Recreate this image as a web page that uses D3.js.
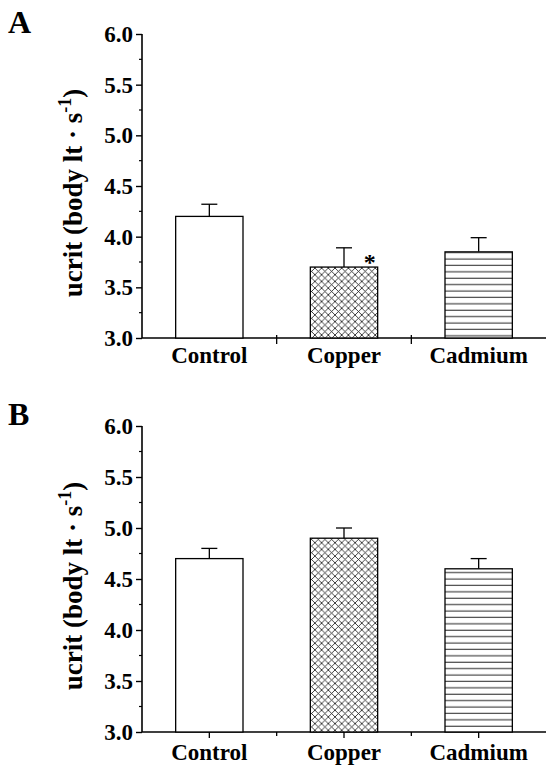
<!DOCTYPE html>
<html>
<head>
<meta charset="utf-8">
<script src="https://cdn.jsdelivr.net/npm/d3@7"></script>
<style>
  body { margin: 0; background: #fff; }
  svg { display: block; font-family: "Liberation Serif", "Times New Roman", serif; font-weight: bold; }
</style>
</head>
<body>
<svg id="chart" width="550" height="769"></svg>
<script>
// values
const categories = ['Control', 'Copper', 'Cadmium'];
const fills = ['#fff', 'url(#cross)', 'url(#hlines)'];
const meansA = [4.2, 3.7, 3.85];
const errA = [0.12, 0.19, 0.14];
const meansB = [4.7, 4.9, 4.6];
const errB = [0.1, 0.1, 0.1];
const yTicks = [3.0, 3.5, 4.0, 4.5, 5.0, 5.5, 6.0];
const yMinor = [3.25, 3.75, 4.25, 4.75, 5.25, 5.75];
const signifA = ['', '*', ''];
const signifB = ['', '', ''];

const svg = d3.select('#chart');
const defs = svg.append('defs');

// crosshatch for copper
const cross = defs.append('pattern')
  .attr('id', 'cross')
  .attr('patternUnits', 'userSpaceOnUse')
  .attr('width', 6.7).attr('height', 6.7);
cross.append('rect').attr('width', 6.7).attr('height', 6.7).attr('fill', '#fff');
cross.append('path')
  .attr('d', 'M0,0L6.7,6.7M6.7,0L0,6.7')
  .attr('stroke', '#111').attr('stroke-width', 0.8);

// horizontal lines for cadmium
const hl = defs.append('pattern')
  .attr('id', 'hlines')
  .attr('patternUnits', 'userSpaceOnUse')
  .attr('width', 10).attr('height', 6.4);
hl.append('rect').attr('width', 10).attr('height', 6.4).attr('fill', '#fff');
hl.append('line')
  .attr('x1', 0).attr('x2', 10).attr('y1', 3).attr('y2', 3)
  .attr('stroke', '#222').attr('stroke-width', 1);

const left = 142, right = 546;

function panel(letter, top, bottom, means, errs, marks, centerTicks, labelGap) {
  const g = svg.append('g');
  const x = d3.scaleBand().domain(categories).range([left, right]).paddingInner(0.5).paddingOuter(0.25);
  const y = d3.scaleLinear().domain([3, 6]).range([bottom, top]);

  // panel letter
  g.append('text')
    .attr('x', 8).attr('y', top - 1)
    .attr('font-size', 32)
    .text(letter);

  // y axis
  const yAxis = g.append('g')
    .attr('transform', `translate(${left},0)`)
    .call(d3.axisLeft(y).tickValues(yTicks).tickFormat(d3.format('.1f')).tickSize(6).tickPadding(3));
  yAxis.select('.domain').attr('stroke', '#000').attr('stroke-width', 1.6).attr('d', `M0,${top}V${bottom}`);
  yAxis.selectAll('.tick line').attr('stroke-width', 1.4);
  yAxis.selectAll('.tick text')
    .attr('font-size', 23).attr('font-family', '"Liberation Serif", serif').attr('font-weight', 'bold').attr('fill', '#000');
  yAxis.selectAll('.minor')
    .data(yMinor).enter().append('line')
    .attr('x1', -3).attr('x2', 0)
    .attr('y1', d => y(d)).attr('y2', d => y(d))
    .attr('stroke', '#000').attr('stroke-width', 1.2);

  // y label
  g.append('text')
    .attr('transform', `translate(82,${(top + bottom) / 2 + 7}) rotate(-90)`)
    .attr('text-anchor', 'middle')
    .attr('font-size', 27)
    .call(t => {
      t.append('tspan').text('ucrit (body lt \u00b7 s');
      t.append('tspan').attr('dy', -11).attr('font-size', 18).text('-1');
      t.append('tspan').attr('dy', 11).text(')');
    });

  // x axis
  g.append('line')
    .attr('x1', left).attr('x2', right)
    .attr('y1', bottom).attr('y2', bottom)
    .attr('stroke', '#000').attr('stroke-width', 1.6);
  const edges = categories.slice(1).map(c => x(c) - x.bandwidth() * 0.5);
  g.selectAll('.edge').data(edges).enter().append('line')
    .attr('x1', d => d).attr('x2', d => d)
    .attr('y1', bottom - (centerTicks ? 0 : 3)).attr('y2', bottom + (centerTicks ? 4 : 6))
    .attr('stroke', '#000').attr('stroke-width', 1.3);
  if (centerTicks) {
    g.selectAll('.ctick').data(categories).enter().append('line')
      .attr('x1', d => x(d) + x.bandwidth() / 2).attr('x2', d => x(d) + x.bandwidth() / 2)
      .attr('y1', bottom).attr('y2', bottom + 6)
      .attr('stroke', '#000').attr('stroke-width', 1.3);
  }
  g.selectAll('.xlab').data(categories).enter().append('text')
    .attr('x', d => x(d) + x.bandwidth() / 2)
    .attr('y', bottom + labelGap)
    .attr('text-anchor', 'middle')
    .attr('font-size', 23)
    .text(d => d);

  // error bars (upper only)
  categories.forEach((c, i) => {
    const cx = x(c) + x.bandwidth() / 2;
    g.append('line')
      .attr('x1', cx).attr('x2', cx)
      .attr('y1', y(means[i])).attr('y2', y(means[i] + errs[i]))
      .attr('stroke', '#000').attr('stroke-width', 1.3);
    g.append('line')
      .attr('x1', cx - 8).attr('x2', cx + 8)
      .attr('y1', y(means[i] + errs[i])).attr('y2', y(means[i] + errs[i]))
      .attr('stroke', '#000').attr('stroke-width', 1.3);
  });

  // bars
  g.selectAll('.bar').data(categories).enter().append('rect')
    .attr('x', d => x(d))
    .attr('width', x.bandwidth())
    .attr('y', (d, i) => y(means[i]))
    .attr('height', (d, i) => y(3) - y(means[i]))
    .attr('fill', (d, i) => fills[i])
    .attr('stroke', '#000').attr('stroke-width', 1.3);

  // significance marks
  g.selectAll('.sig').data(categories).enter().append('text')
    .attr('x', d => x(d) + x.bandwidth() - 8)
    .attr('y', (d, i) => y(means[i]) + 3)
    .attr('font-size', 24)
    .attr('text-anchor', 'middle')
    .text((d, i) => marks[i]);
}

panel('A', 34, 338, meansA, errA, signifA, false, 25);
panel('B', 426, 732, meansB, errB, signifB, true, 28);
</script>
</body>
</html>
